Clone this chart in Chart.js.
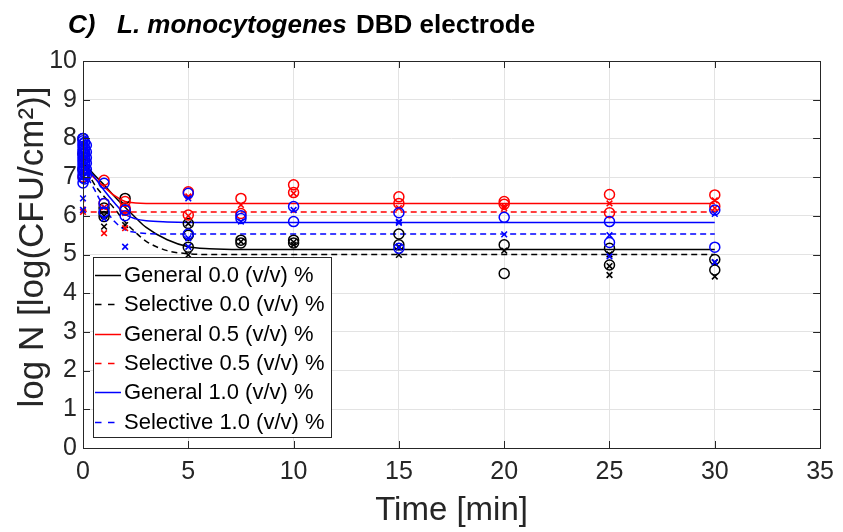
<!DOCTYPE html>
<html lang="en">
<head>
<meta charset="UTF-8">
<title>L. monocytogenes DBD electrode</title>
<script src="https://cdn.jsdelivr.net/npm/chart.js"></script>
<style>
  html, body { margin: 0; padding: 0; background: #fff; }
  #wrap { width: 843px; height: 532px; }
</style>
</head>
<body>
<div id="wrap"><canvas id="survivalChart" width="843" height="532"></canvas></div>
<script>
// ---- values ----
const xTicks = [0, 5, 10, 15, 20, 25, 30, 35];
const yTicks = [0, 1, 2, 3, 4, 5, 6, 7, 8, 9, 10];

// fitted curves (time in min, log N)
const fitGen00T = [0, 0.5, 1, 1.5, 2, 2.5, 3, 4, 5, 6, 7.5, 10, 15, 20, 25, 30];
const fitGen00  = [7.4, 7.08, 6.8, 6.5, 6.22, 5.95, 5.7, 5.38, 5.2, 5.15, 5.13, 5.13, 5.13, 5.13, 5.13, 5.13];
const fitSel00T = [0, 0.5, 1, 1.5, 2, 2.5, 3, 4, 5, 6, 7.5, 10, 15, 20, 25, 30];
const fitSel00  = [7.4, 6.85, 6.5, 6.18, 5.84, 5.57, 5.34, 5.1, 5.02, 5.0, 5.0, 5.0, 5.0, 5.0, 5.0, 5.0];
const fitGen05T = [0, 0.5, 1, 1.5, 2, 2.5, 3, 5, 10, 15, 20, 25, 30];
const fitGen05  = [7.3, 7.0, 6.75, 6.52, 6.37, 6.33, 6.32, 6.32, 6.32, 6.32, 6.32, 6.32, 6.32];
const fitSel05T = [0, 0.12, 0.3, 1, 5, 10, 15, 20, 25, 30];
const fitSel05  = [6.5, 6.13, 6.1, 6.1, 6.1, 6.1, 6.1, 6.1, 6.1, 6.1];
const fitGen10T = [0, 0.5, 1, 1.5, 2, 2.5, 3, 4, 5, 10, 15, 20, 25, 30];
const fitGen10  = [7.3, 7.03, 6.66, 6.33, 6.04, 5.92, 5.87, 5.84, 5.83, 5.83, 5.83, 5.83, 5.83, 5.83];
const fitSel10T = [0, 0.5, 1, 1.5, 2, 2.5, 3, 4, 5, 10, 15, 20, 25, 30];
const fitSel10  = [7.2, 6.72, 6.22, 5.85, 5.64, 5.57, 5.54, 5.53, 5.53, 5.53, 5.53, 5.53, 5.53, 5.53];

// measured points
const ptGen00T = [0, 0, 0, 1, 1, 1, 2, 2, 5, 5, 5, 7.5, 7.5, 10, 10, 15, 15, 20, 20, 25, 25, 30, 30];
const ptGen00  = [8.0, 7.6, 7.2, 6.07, 5.98, 6.2, 6.45, 6.15, 5.5, 5.19, 5.8, 5.37, 5.3, 5.37, 5.3, 5.53, 5.25, 5.25, 4.51, 5.16, 4.73, 4.87, 4.6];
const ptSel00T = [0, 0, 1, 1, 2, 5, 5, 7.5, 10, 10, 15, 15, 20, 25, 25, 25, 30, 30];
const ptSel00  = [7.5, 7.0, 5.72, 6.0, 5.76, 4.99, 5.8, 5.33, 5.32, 5.25, 4.99, 5.2, 5.1, 5.0, 4.47, 4.7, 4.8, 4.43];
const ptGen05T = [0, 1, 1, 2, 2, 5, 5, 7.5, 7.5, 10, 10, 15, 15, 20, 20, 25, 25, 30, 30];
const ptGen05  = [7.0, 6.92, 6.32, 6.37, 6.2, 6.62, 6.02, 6.45, 6.06, 6.8, 6.6, 6.49, 6.32, 6.37, 6.3, 6.55, 6.08, 6.54, 6.25];
const ptSel05T = [0, 1, 1, 2, 2, 5, 5, 7.5, 10, 15, 20, 20, 25, 30, 30];
const ptSel05  = [6.1, 5.55, 6.22, 6.07, 5.68, 6.5, 6.0, 6.28, 6.58, 6.2, 6.2, 6.25, 6.32, 6.4, 6.2];
const ptGen10T = [0, 0, 0, 0, 0, 0, 0, 0, 0, 0, 0, 0, 0, 0, 0, 0,
                  0.08, 0.08, 0.08, 0.08, 0.08, 0.08, 0.08, 0.08, 0.16, 0.16, 0.16, 0.16, 0.16, 0.16,
                  1, 1, 1, 2, 2, 5, 5, 7.5, 7.5, 10, 10, 15, 15, 20, 25, 25, 30, 30];
const ptGen10  = [8.0, 7.94, 7.86, 7.8, 7.72, 7.66, 7.6, 7.52, 7.45, 7.38, 7.3, 7.22, 7.15, 7.06, 6.98, 6.85,
                  7.9, 7.75, 7.62, 7.48, 7.35, 7.22, 7.08, 6.95, 7.82, 7.65, 7.5, 7.36, 7.2, 7.05,
                  6.84, 6.32, 6.1, 6.15, 6.0, 6.58, 5.53, 6.0, 5.93, 6.24, 5.85, 6.08, 5.16, 5.96, 5.85, 5.31, 6.15, 5.19];
const ptSel10T = [0, 0, 0, 0, 1, 2, 5, 5, 5, 7.5, 10, 15, 15, 15, 20, 25, 25, 30, 30];
const ptSel10  = [6.45, 6.15, 7.6, 7.3, 5.93, 5.2, 6.45, 5.42, 5.2, 5.85, 6.15, 5.85, 5.82, 5.18, 5.52, 5.5, 4.95, 6.05, 4.8];

const legendLabels = ['General 0.0 (v/v) %', 'Selective 0.0 (v/v) %', 'General 0.5 (v/v) %',
                      'Selective 0.5 (v/v) %', 'General 1.0 (v/v) %', 'Selective 1.0 (v/v) %'];

const FONT = '"Liberation Sans", Arial, Helvetica, sans-serif';
const AXIS = '#262626';
const BLACK = '#000000', RED = '#ff0000', BLUE = '#0000ff';

const pairs = (ts, vs) => ts.map((t, i) => ({ x: t, y: vs[i] }));

function fitSet(label, ts, vs, color, dashed, order) {
    return {
        label, data: pairs(ts, vs), showLine: true, pointRadius: 0,
        borderColor: color, borderWidth: 1.5, borderDash: dashed ? [6, 4] : [],
        cubicInterpolationMode: 'monotone', fill: false, order
    };
}
function pointSet(label, ts, vs, color, cross, order) {
    return {
        label, data: pairs(ts, vs), showLine: false, clip: false,
        pointStyle: cross ? 'crossRot' : 'circle', pointRadius: cross ? 4 : 5,
        pointBorderWidth: cross ? 1.6 : 1.5, pointBorderColor: color,
        pointBackgroundColor: 'rgba(0,0,0,0)', order
    };
}

const datasets = [
    fitSet(legendLabels[0], fitGen00T, fitGen00, BLACK, false, 12),
    fitSet(legendLabels[1], fitSel00T, fitSel00, BLACK, true, 11),
    fitSet(legendLabels[2], fitGen05T, fitGen05, RED, false, 10),
    fitSet(legendLabels[3], fitSel05T, fitSel05, RED, true, 9),
    fitSet(legendLabels[4], fitGen10T, fitGen10, BLUE, false, 8),
    fitSet(legendLabels[5], fitSel10T, fitSel10, BLUE, true, 7),
    pointSet('pts gen 0.0', ptGen00T, ptGen00, BLACK, false, 6),
    pointSet('pts sel 0.0', ptSel00T, ptSel00, BLACK, true, 5),
    pointSet('pts gen 0.5', ptGen05T, ptGen05, RED, false, 4),
    pointSet('pts sel 0.5', ptSel05T, ptSel05, RED, true, 3),
    pointSet('pts gen 1.0', ptGen10T, ptGen10, BLUE, false, 2),
    pointSet('pts sel 1.0', ptSel10T, ptSel10, BLUE, true, 1)
];

// box, inward ticks, y title, chart title and legend, MATLAB style
const matlabDecor = {
    id: 'matlabDecor',
    afterDatasetsDraw(chart) {
        const { ctx, chartArea: a, scales } = chart;
        const tl = 7;
        ctx.save();
        ctx.strokeStyle = AXIS;
        ctx.lineWidth = 1;
        ctx.beginPath();
        xTicks.forEach(v => {
            const px = Math.round(scales.x.getPixelForValue(v)) + 0.5;
            ctx.moveTo(px, a.bottom); ctx.lineTo(px, a.bottom - tl);
            ctx.moveTo(px, a.top); ctx.lineTo(px, a.top + tl);
        });
        yTicks.forEach(v => {
            const py = Math.round(scales.y.getPixelForValue(v)) + 0.5;
            ctx.moveTo(a.left, py); ctx.lineTo(a.left + tl, py);
            ctx.moveTo(a.right, py); ctx.lineTo(a.right - tl, py);
        });
        ctx.stroke();
        ctx.strokeRect(Math.round(a.left) + 0.5, Math.round(a.top) + 0.5,
                       Math.round(a.right - a.left), Math.round(a.bottom - a.top));

        // y axis title
        ctx.save();
        ctx.translate(33, 247);
        ctx.rotate(-Math.PI / 2);
        ctx.fillStyle = AXIS;
        ctx.font = '35px ' + FONT;
        ctx.textAlign = 'center';
        ctx.textBaseline = 'middle';
        ctx.fillText('log N [log(CFU/cm²)]', 0, 0);
        ctx.restore();

        // legend
        const lx = 93, ly = 257, lw = 238, lh = 180;
        ctx.fillStyle = '#ffffff';
        ctx.fillRect(lx, ly, lw, lh);
        ctx.strokeStyle = AXIS;
        ctx.strokeRect(lx + 0.5, ly + 0.5, lw, lh);
        ctx.font = '22px ' + FONT;
        ctx.textBaseline = 'middle';
        ctx.textAlign = 'left';
        for (let i = 0; i < 6; i++) {
            const ds = chart.data.datasets[i];
            const y = ly + 18 + i * 29.3;
            ctx.strokeStyle = ds.borderColor;
            ctx.lineWidth = 1.5;
            ctx.setLineDash(ds.borderDash.length ? [6.5, 6.5] : []);
            ctx.beginPath();
            ctx.moveTo(95, Math.round(y) + 0.5); ctx.lineTo(121, Math.round(y) + 0.5);
            ctx.stroke();
            ctx.setLineDash([]);
            ctx.fillStyle = '#000000';
            ctx.fillText(ds.label, 124, y + 1);
        }

        // title
        ctx.fillStyle = '#000000';
        ctx.textBaseline = 'alphabetic';
        ctx.font = 'italic bold 26px ' + FONT;
        ctx.fillText('C)', 68, 33);
        ctx.fillText('L. monocytogenes', 117, 33);
        ctx.font = 'bold 26px ' + FONT;
        ctx.fillText('DBD electrode', 356, 33);
        ctx.restore();
    }
};

new Chart(document.getElementById('survivalChart'), {
    type: 'scatter',
    data: { datasets },
    options: {
        responsive: false,
        animation: false,
        layout: { padding: { left: 0, top: 61, right: 17, bottom: 0 } },
        plugins: { legend: { display: false }, tooltip: { enabled: false } },
        scales: {
            x: {
                type: 'linear', min: 0, max: 35,
                afterFit: s => { s.height = 84; },
                afterBuildTicks: s => { s.ticks = xTicks.map(v => ({ value: v })); },
                grid: { color: '#e3e3e3', drawTicks: false },
                border: { display: false },
                ticks: { padding: 9, color: AXIS, font: { family: FONT, size: 25 }, maxRotation: 0 },
                title: { display: true, text: 'Time [min]', color: AXIS,
                         font: { family: FONT, size: 33 }, padding: { top: 0, bottom: 1 } }
            },
            y: {
                type: 'linear', min: 0, max: 10,
                afterFit: s => { s.width = 83; },
                afterBuildTicks: s => { s.ticks = yTicks.map(v => ({ value: v })); },
                grid: { color: '#e3e3e3', drawTicks: false },
                border: { display: false },
                ticks: { padding: 6, color: AXIS, font: { family: FONT, size: 25 } }
            }
        }
    },
    plugins: [matlabDecor]
});
</script>
</body>
</html>
